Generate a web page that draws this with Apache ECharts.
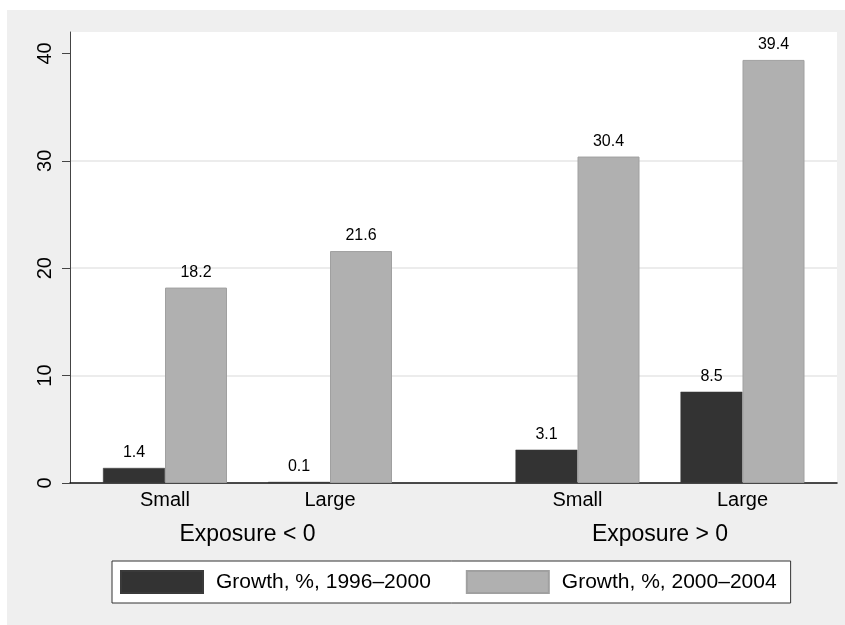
<!DOCTYPE html>
<html>
<head>
<meta charset="utf-8">
<script src="https://cdn.jsdelivr.net/npm/echarts@6/dist/echarts.min.js"></script>
<style>
  html, body { margin: 0; padding: 0; background: #ffffff; }
  #chart { width: 845px; height: 625px; }
</style>
</head>
<body>
<div id="chart"></div>
<script>
// ---- data ----
const groups = ['Exposure < 0', 'Exposure > 0'];
const sizes = ['Small', 'Large'];
const seriesNames = ['Growth, %, 1996\u20132000', 'Growth, %, 2000\u20132004'];
const growth1996_2000 = [1.4, 0.1, 3.1, 8.5];   // Small<0, Large<0, Small>0, Large>0
const growth2000_2004 = [18.2, 21.6, 30.4, 39.4];
const yTicks = [0, 10, 20, 30, 40];

// ---- layout of category slots (over-group gap) ----
const groupGap = 1.5;
const slotPos = [];
const slotLabel = [];
const groupPos = [];
groups.forEach((g, gi) => {
  const start = 1 + gi * (sizes.length + groupGap - 1);
  sizes.forEach((s, si) => { slotPos.push(start + si); slotLabel.push(s); });
  groupPos.push(start + (sizes.length - 1) / 2);
});
const xMin = 1 - 95 / 165;
const xMax = 1 + 672 / 165;

const font = 'Liberation Sans, Arial, Helvetica, sans-serif';

const chart = echarts.init(document.getElementById('chart'), null, { renderer: 'canvas' });

function labelFor(v, positions, labels) {
  for (let i = 0; i < positions.length; i++) {
    if (Math.abs(positions[i] - v) < 1e-6) return labels[i];
  }
  return '';
}

const option = {
  backgroundColor: '#efefef',
  animation: false,
  graphic: [
    { type: 'rect', shape: { x: 0, y: 0, width: 845, height: 10 }, style: { fill: '#ffffff' }, silent: true },
    { type: 'rect', shape: { x: 0, y: 0, width: 7, height: 625 }, style: { fill: '#ffffff' }, silent: true }
  ],
  grid: {
    left: 70, top: 32, width: 767, height: 451,
    show: true, backgroundColor: '#ffffff', borderWidth: 0
  },
  legend: {
    left: 112, top: 561,
    padding: [9, 14, 9, 8],
    itemWidth: 82, itemHeight: 22, itemGap: 35,
    icon: 'rect',
    borderColor: '#333333', borderWidth: 1,
    backgroundColor: '#ffffff',
    textStyle: { fontFamily: font, fontSize: 21, color: '#000000', padding: [0, 0, 0, 8] },
    data: seriesNames
  },
  xAxis: [
    {
      type: 'value', min: xMin, max: xMax,
      axisLine: { show: true, onZero: false, lineStyle: { color: '#111111', width: 1.5 } },
      axisTick: { show: false },
      splitLine: { show: false },
      axisLabel: {
        customValues: slotPos,
        formatter: v => labelFor(v, slotPos, slotLabel),
        fontFamily: font, fontSize: 20, color: '#000000', margin: 7
      }
    },
    {
      type: 'value', min: xMin, max: xMax, position: 'bottom',
      axisLine: { show: false },
      axisTick: { show: false },
      splitLine: { show: false },
      axisLabel: {
        customValues: groupPos,
        formatter: v => labelFor(v, groupPos, groups),
        fontFamily: font, fontSize: 23, color: '#000000', margin: 40
      }
    }
  ],
  yAxis: {
    type: 'value', min: 0, max: 42, interval: 10,
    axisLine: { show: true, lineStyle: { color: '#444444', width: 1 } },
    axisTick: { show: true, length: 8, customValues: yTicks, lineStyle: { color: '#444444', width: 1 } },
    axisLabel: {
      customValues: yTicks,
      rotate: 90, margin: 15,
      fontFamily: font, fontSize: 20, color: '#000000'
    },
    splitLine: { show: true, showMaxLine: false, showMinLine: false, lineStyle: { color: '#e6e6e6', width: 1.5 } }
  },
  series: [
    {
      name: seriesNames[0], type: 'bar', xAxisIndex: 0,
      barWidth: 62, barGap: '0%',
      itemStyle: { color: '#333333', borderColor: '#3a3a3a', borderWidth: 0.5 },
      label: {
        show: true, position: 'top', distance: 7,
        fontFamily: font, fontSize: 16, color: '#000000',
        formatter: p => p.value[1].toFixed(1)
      },
      data: growth1996_2000.map((v, i) => [slotPos[i], v])
    },
    {
      name: seriesNames[1], type: 'bar', xAxisIndex: 0,
      barWidth: 62, barGap: '0%',
      itemStyle: { color: '#b0b0b0', borderColor: '#a0a0a0', borderWidth: 1 },
      label: {
        show: true, position: 'top', distance: 7,
        fontFamily: font, fontSize: 16, color: '#000000',
        formatter: p => p.value[1].toFixed(1)
      },
      data: growth2000_2004.map((v, i) => [slotPos[i], v])
    }
  ]
};

chart.setOption(option);
</script>
</body>
</html>
